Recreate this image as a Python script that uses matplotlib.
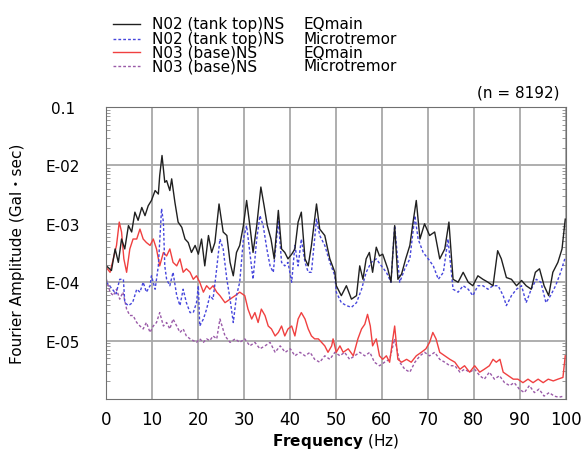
import matplotlib
matplotlib.use("Agg")
import matplotlib.pyplot as plt
from matplotlib.lines import Line2D
from matplotlib.ticker import LogLocator, NullFormatter
import numpy as np

# spectra: frequency (Hz) and log10 amplitude
n02_eq_f = [0.1, 1.2, 2.0, 2.7, 3.4, 4.1, 4.9, 5.6, 6.3, 7.0, 7.8, 8.5, 9.2, 9.9, 10.7,
            11.4, 11.7, 12.2, 12.8, 13.2, 13.9, 14.3, 15.0, 15.7, 16.5, 17.2, 17.9,
            18.6, 19.4, 20.1, 20.8, 21.5, 22.3, 23.0, 23.7, 24.6, 25.5, 26.3, 27.0,
            27.7, 28.4, 29.1, 29.9, 30.6, 31.3, 32.0, 32.8, 33.7, 34.4, 35.1, 35.9,
            36.6, 37.5, 38.2, 38.9, 39.6, 40.4, 41.1, 41.8, 42.5, 43.3, 44.0, 44.7,
            45.8, 46.5, 47.6, 48.7, 49.8, 50.1, 51.2, 52.3, 53.4, 54.5, 55.2, 55.9,
            56.6, 57.3, 58.0, 58.8, 59.5, 60.2, 61.3, 62.0, 62.8, 63.5, 64.3, 65.2,
            66.1, 66.8, 67.5, 68.3, 69.3, 70.4, 71.5, 72.6, 73.7, 74.6, 75.5, 76.6,
            77.7, 78.8, 79.8, 80.9, 82.0, 83.1, 84.2, 85.2, 86.0, 87.1, 88.2, 89.3,
            90.4, 91.4, 92.5, 93.4, 94.3, 95.3, 96.3, 97.2, 98.3, 99.2, 99.9]
n02_eq_log = [-3.72, -3.80, -3.43, -3.66, -3.26, -3.43, -3.03, -3.14, -2.80, -2.94, -2.72,
              -2.86, -2.69, -2.60, -2.43, -2.49, -2.17, -1.83, -2.29, -2.26, -2.43, -2.23,
              -2.63, -2.97, -3.06, -3.26, -3.32, -3.49, -3.37, -3.52, -3.26, -3.72, -3.20,
              -3.49, -3.32, -2.66, -3.14, -3.20, -3.66, -3.89, -3.49, -3.37, -3.03, -2.60,
              -3.03, -3.49, -3.03, -2.37, -2.69, -3.03, -3.26, -3.60, -2.77, -3.43, -3.49,
              -3.60, -3.52, -3.43, -2.97, -2.80, -3.60, -3.72, -3.37, -2.66, -3.09, -3.20,
              -3.60, -3.83, -4.06, -4.23, -4.06, -4.29, -4.23, -3.72, -3.95, -3.60, -3.49,
              -3.83, -3.40, -3.55, -3.52, -3.77, -4.00, -3.03, -3.95, -3.86, -3.60, -3.37,
              -2.97, -2.60, -3.26, -3.00, -3.20, -3.14, -3.60, -3.43, -2.97, -3.95, -4.00,
              -3.83, -4.00, -4.06, -3.89, -3.95, -4.00, -4.06, -3.46, -3.60, -3.92, -3.95,
              -4.06, -3.97, -4.06, -4.12, -3.83, -3.77, -4.06, -4.23, -3.83, -3.66, -3.43,
              -2.92]

n02_mt_f = [0.1, 1.2, 2.2, 3.0, 3.8, 4.1, 4.9, 5.8, 6.7, 7.4, 8.1, 8.8, 9.6, 9.9, 10.7,
            11.4, 12.1, 12.5, 12.8, 13.2, 13.9, 14.6, 15.4, 16.1, 16.8, 17.5, 18.3,
            19.0, 19.7, 20.1, 20.4, 21.2, 21.9, 22.6, 23.3, 24.0, 24.8, 25.5, 26.3,
            27.0, 27.7, 28.4, 29.1, 29.9, 30.6, 31.3, 32.0, 32.8, 33.5, 34.2, 35.0,
            35.7, 36.4, 37.5, 38.2, 38.9, 39.6, 40.4, 41.1, 41.8, 42.5, 43.3, 44.0,
            44.7, 45.8, 46.5, 47.6, 48.7, 49.8, 50.1, 51.2, 52.3, 53.4, 54.5, 55.6,
            56.6, 57.7, 58.8, 59.9, 61.0, 62.0, 62.8, 63.9, 65.0, 66.1, 67.2, 67.9,
            69.0, 70.1, 71.2, 72.3, 73.4, 74.4, 75.5, 76.6, 77.7, 78.8, 79.8, 80.9,
            82.0, 83.1, 84.2, 85.3, 86.4, 87.1, 88.2, 89.3, 90.4, 91.4, 92.5, 93.6,
            94.6, 95.7, 96.7, 97.8, 98.9, 99.8]
n02_mt_log = [-4.00, -4.10, -4.20, -3.95, -3.95, -4.35, -4.40, -4.35, -4.12, -4.17, -4.00,
              -4.17, -4.06, -3.89, -4.12, -3.72, -2.74, -2.97, -3.72, -3.95, -4.06, -3.83,
              -4.23, -4.40, -4.12, -4.35, -4.52, -4.52, -4.35, -4.06, -4.75, -4.63, -4.46,
              -4.23, -4.29, -3.83, -3.26, -3.43, -3.95, -4.29, -4.69, -4.23, -4.00, -3.26,
              -3.03, -3.49, -3.95, -3.26, -2.86, -3.03, -3.43, -3.72, -3.83, -2.94, -3.66,
              -3.72, -3.66, -4.00, -3.37, -3.72, -3.26, -3.66, -3.83, -3.83, -2.92, -3.20,
              -3.37, -3.66, -3.89, -4.17, -4.35, -4.40, -4.43, -4.35, -4.12, -3.83, -3.66,
              -3.60, -3.72, -3.83, -4.00, -3.03, -4.00, -3.77, -3.60, -2.86, -3.26, -3.49,
              -3.60, -3.72, -3.95, -3.83, -3.26, -4.12, -4.17, -4.06, -4.12, -4.23, -4.06,
              -4.06, -4.12, -4.06, -4.06, -4.23, -4.40, -4.23, -4.12, -4.06, -4.35, -4.12,
              -3.95, -4.00, -4.35, -4.23, -4.06, -3.83, -3.60]

n03_eq_f = [0.1, 0.9, 1.6, 2.3, 2.9, 3.4, 3.9, 4.5, 5.2, 5.9, 6.7, 7.4, 8.1, 8.8, 9.6,
            10.3, 11.0, 11.7, 12.5, 13.2, 13.9, 14.6, 15.4, 16.1, 16.8, 17.5, 18.3,
            19.0, 19.7, 20.4, 21.2, 21.9, 22.6, 23.3, 24.1, 24.8, 25.9, 27.0, 28.1,
            29.1, 30.2, 30.9, 31.7, 32.4, 33.1, 33.8, 34.6, 35.3, 36.0, 36.8, 37.5,
            38.2, 38.9, 39.6, 40.4, 41.1, 41.8, 42.5, 43.3, 44.0, 44.7, 45.4, 46.2,
            46.9, 47.6, 48.3, 49.1, 49.4, 50.1, 50.9, 51.6, 52.7, 53.8, 54.8, 55.6,
            56.3, 56.9, 57.5, 58.0, 58.8, 59.5, 60.2, 61.0, 61.7, 62.4, 62.8, 63.5,
            64.3, 65.4, 66.4, 67.5, 68.6, 69.6, 70.4, 71.1, 71.8, 72.6, 73.7, 74.8,
            75.9, 77.0, 78.0, 79.1, 80.2, 81.3, 82.3, 83.4, 84.2, 84.9, 85.7, 86.4,
            87.5, 88.6, 89.6, 90.7, 91.8, 92.9, 94.0, 95.1, 96.2, 97.3, 98.3, 99.4,
            99.9]
n03_eq_log = [-3.75, -3.83, -3.60, -3.37, -2.97, -3.14, -3.60, -3.83, -3.43, -3.26, -3.26,
              -3.09, -3.26, -3.32, -3.37, -3.26, -3.43, -3.72, -3.49, -3.55, -3.43, -3.66,
              -3.72, -3.60, -3.83, -3.77, -3.83, -3.95, -3.89, -4.00, -4.17, -4.06, -4.12,
              -4.06, -4.17, -4.23, -4.35, -4.29, -4.23, -4.17, -4.23, -4.46, -4.63, -4.52,
              -4.69, -4.46, -4.57, -4.75, -4.80, -4.92, -4.86, -4.75, -4.92, -4.80, -4.75,
              -4.92, -4.63, -4.52, -4.63, -4.80, -4.92, -4.97, -4.97, -5.03, -5.09, -5.20,
              -5.09, -4.97, -5.20, -5.09, -5.20, -5.14, -5.26, -4.97, -4.80, -4.72, -4.55,
              -4.75, -5.09, -4.97, -5.26, -5.32, -5.26, -5.37, -4.97, -4.75, -5.32, -5.37,
              -5.32, -5.37, -5.26, -5.20, -5.14, -5.03, -4.86, -4.97, -5.20, -5.26, -5.32,
              -5.37, -5.49, -5.43, -5.54, -5.43, -5.54, -5.49, -5.43, -5.32, -5.37, -5.32,
              -5.54, -5.60, -5.66, -5.66, -5.72, -5.66, -5.72, -5.66, -5.72, -5.66, -5.69,
              -5.66, -5.63, -5.26]

n03_mt_f = [0.1, 0.9, 1.6, 2.3, 3.0, 3.7, 4.5, 5.2, 5.9, 6.7, 7.4, 8.1, 8.8, 9.6, 10.3,
            11.0, 11.7, 12.5, 13.2, 13.9, 14.6, 15.4, 16.1, 16.8, 17.5, 18.3, 19.0,
            19.7, 20.4, 21.2, 21.9, 22.6, 23.3, 24.1, 24.8, 25.9, 27.0, 28.1, 29.1,
            30.2, 31.3, 32.4, 33.5, 34.6, 35.7, 36.8, 37.9, 39.0, 40.1, 41.1, 42.2,
            43.3, 44.4, 45.4, 46.5, 47.6, 48.7, 49.8, 50.9, 51.9, 53.0, 54.1, 55.2,
            56.3, 57.4, 58.4, 59.5, 60.6, 61.7, 62.8, 63.9, 65.0, 66.1, 67.2, 68.3,
            69.3, 70.4, 71.5, 72.6, 73.7, 74.8, 75.9, 77.0, 78.0, 79.1, 80.2, 81.3,
            82.3, 83.4, 84.5, 85.6, 86.7, 87.8, 88.8, 89.9, 91.0, 92.1, 93.2, 94.2,
            95.3, 96.4, 97.5, 98.5, 99.6]
n03_mt_log = [-3.95, -4.17, -4.23, -4.12, -4.29, -4.17, -4.46, -4.57, -4.57, -4.69, -4.75,
              -4.80, -4.69, -4.86, -4.75, -4.69, -4.52, -4.75, -4.69, -4.80, -4.63, -4.75,
              -4.86, -4.80, -4.92, -4.97, -5.00, -5.03, -4.97, -5.03, -4.97, -5.00, -4.92,
              -4.97, -4.63, -4.92, -5.03, -4.97, -5.03, -4.97, -5.09, -5.03, -5.14, -5.09,
              -5.03, -5.20, -5.09, -5.20, -5.14, -5.26, -5.20, -5.26, -5.20, -5.32, -5.37,
              -5.26, -5.32, -5.20, -5.26, -5.20, -5.32, -5.26, -5.20, -5.26, -5.20, -5.37,
              -5.43, -5.37, -5.32, -4.97, -5.37, -5.49, -5.54, -5.37, -5.26, -5.20, -5.26,
              -5.20, -5.32, -5.37, -5.43, -5.43, -5.54, -5.49, -5.54, -5.49, -5.60, -5.66,
              -5.54, -5.66, -5.60, -5.72, -5.77, -5.72, -5.83, -5.89, -5.77, -5.89, -5.83,
              -5.95, -5.89, -5.95, -5.97, -5.95]

legend_names = ["N02 (tank top)NS", "N02 (tank top)NS", "N03 (base)NS", "N03 (base)NS"]
legend_kinds = ["EQmain", "Microtremor", "EQmain", "Microtremor"]
y_ticks = [1e-1, 1e-2, 1e-3, 1e-4, 1e-5]
y_labels = ["0.1", "E-02", "E-03", "E-04", "E-05"]

colors = ["#202020", "#4646dc", "#f04040", "#9a5aa8"]
styles = ["-", (0, (2, 1.5)), "-", (0, (2, 1.5))]

fig = plt.figure(figsize=(5.82, 4.52), dpi=100)
ax = fig.add_axes([0.182, 0.115, 0.79, 0.646])

series = [(n03_mt_f, n03_mt_log, 3), (n03_eq_f, n03_eq_log, 2),
          (n02_mt_f, n02_mt_log, 1), (n02_eq_f, n02_eq_log, 0)]
for f, lg, i in series:
    ax.plot(f, 10 ** np.array(lg), color=colors[i], ls=styles[i], lw=1.0)

ax.set_yscale("log")
ax.set_xlim(0, 100)
ax.set_ylim(1e-6, 1e-1)
ax.set_xticks(range(0, 101, 10))
ax.set_yticks(y_ticks)
ax.set_yticklabels(y_labels)
ax.yaxis.set_minor_locator(LogLocator(base=10, subs=np.arange(2, 10), numticks=20))
ax.yaxis.set_minor_formatter(NullFormatter())
ax.grid(True, which="major", color="#a8a8a8", lw=1.3)
ax.tick_params(axis="y", which="both", direction="in", right=True, length=0)
ax.tick_params(axis="y", which="minor", length=3, color="#888888")
ax.tick_params(axis="x", length=0, labelsize=12, pad=8)
ax.tick_params(axis="y", which="major", labelsize=11, pad=31)
for lab in ax.get_yticklabels():
    lab.set_horizontalalignment("center")
for s in ax.spines.values():
    s.set_color("#707070")

ax.set_xlabel("$\\bf{Frequency}$ (Hz)", fontsize=11, labelpad=2)
ax.set_ylabel("Fourier Amplitude (Gal\u30fbsec)", fontsize=11,
              family=["DejaVu Sans", "Noto Sans CJK JP"])
ax.yaxis.set_label_coords(-0.175, 0.5)

fig.text(0.962, 0.795, "(n = 8192)", ha="right", va="center", fontsize=11)

# legend drawn by hand (two text columns)
leg_y = [0.945, 0.912, 0.882, 0.852]
for i in range(4):
    y = leg_y[i]
    fig.add_artist(Line2D([0.195, 0.24], [y, y], color=colors[i], ls=styles[i],
                          lw=1.0, transform=fig.transFigure))
    fig.text(0.262, y, legend_names[i], fontsize=11, va="center")
    fig.text(0.522, y, legend_kinds[i], fontsize=11, va="center")

fig.savefig("out.png", dpi=100)
